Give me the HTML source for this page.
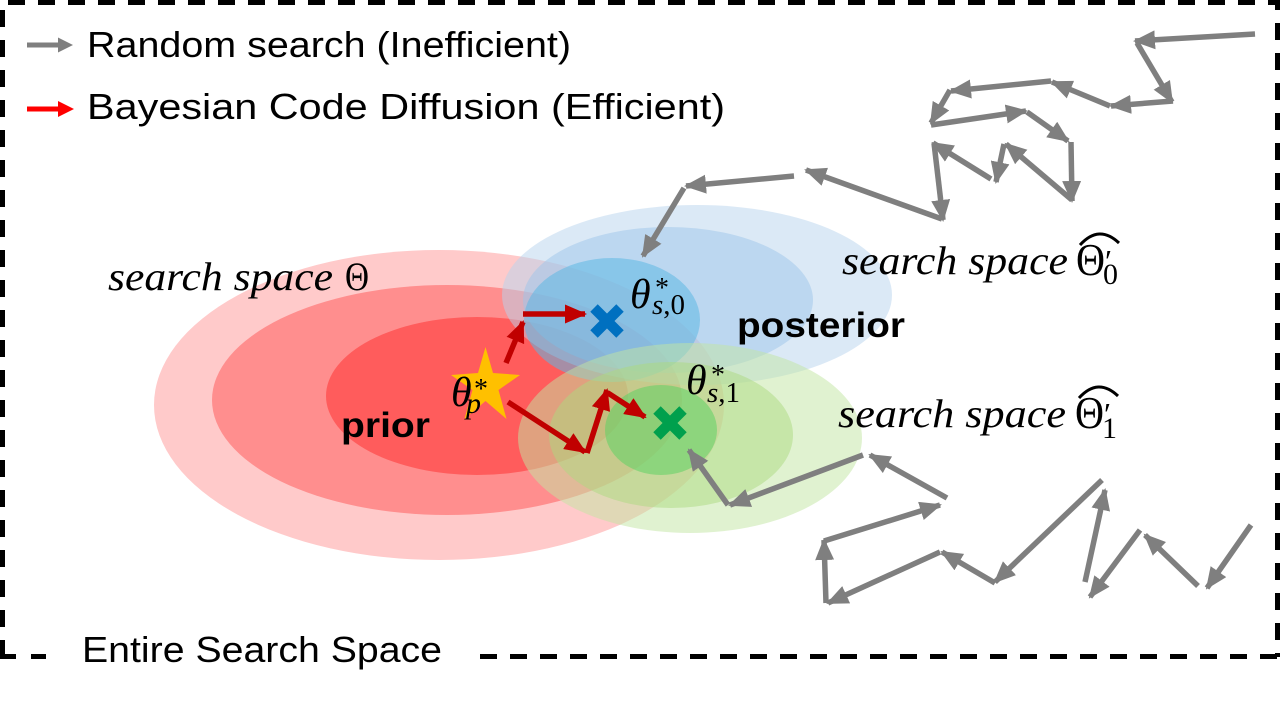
<!DOCTYPE html>
<html>
<head>
<meta charset="utf-8">
<style>
  html, body { margin: 0; padding: 0; background: #fff; }
  svg { display: block; }
  .sans { font-family: "Liberation Sans", Arial, sans-serif; }
  .serif { font-family: "Liberation Serif", "DejaVu Serif", serif; }
</style>
</head>
<body>
<svg width="1280" height="701" viewBox="0 0 1280 701" xmlns="http://www.w3.org/2000/svg">
  <defs>
    <marker id="mg" viewBox="0 0 22 19" refX="20" refY="9.5" markerWidth="22" markerHeight="19" markerUnits="userSpaceOnUse" orient="auto">
      <path d="M0,0 L22,9.5 L0,19 z" fill="#7f7f7f"/>
    </marker>
    <marker id="mr" viewBox="0 0 22 19" refX="20" refY="9.5" markerWidth="22" markerHeight="19" markerUnits="userSpaceOnUse" orient="auto">
      <path d="M0,0 L22,9.5 L0,19 z" fill="#c00000"/>
    </marker>
  </defs>

  <rect x="0" y="0" width="1280" height="701" fill="#ffffff"/>

  <!-- Border (dashed) -->
  <path d="M2.5,657 L2.5,2.5 L1277.5,2.5 L1277.5,657" fill="none" stroke="#000" stroke-width="5" stroke-dasharray="17 13"/>
  <line x1="0" y1="656.5" x2="46" y2="656.5" stroke="#000" stroke-width="5" stroke-dasharray="16 15"/>
  <line x1="480" y1="656.5" x2="1280" y2="656.5" stroke="#000" stroke-width="5" stroke-dasharray="17 13"/>

  <!-- Red (prior) ellipses -->
  <ellipse cx="439" cy="405" rx="285" ry="155" fill="#ffcaca"/>
  <ellipse cx="447" cy="400" rx="235" ry="115" fill="#ff8e8e"/>
  <ellipse cx="477" cy="396" rx="151" ry="79" fill="#ff5c5c"/>

  <!-- Blue (posterior) ellipses -->
  <ellipse cx="697" cy="295" rx="195" ry="90" fill="#b7d3ed" fill-opacity="0.5"/>
  <ellipse cx="668" cy="300" rx="145" ry="73" fill="#9dc5ea" fill-opacity="0.5"/>
  <ellipse cx="612" cy="320" rx="88" ry="62" fill="#5cb8e4" fill-opacity="0.55"/>

  <!-- Green ellipses -->
  <ellipse cx="690" cy="438" rx="172" ry="95" fill="#c1e5a1" fill-opacity="0.5"/>
  <ellipse cx="671" cy="435" rx="122" ry="73" fill="#acda80" fill-opacity="0.5"/>
  <ellipse cx="661" cy="430" rx="56" ry="45" fill="#5ed264" fill-opacity="0.55"/>

  <!-- Gray random search arrows: top chain -->
  <g stroke="#7f7f7f" stroke-width="5.5" marker-end="url(#mg)">
    <line x1="1255" y1="34" x2="1135" y2="41"/>
    <line x1="1137" y1="43" x2="1172" y2="102"/>
    <line x1="1173" y1="101" x2="1111" y2="106"/>
    <line x1="1110" y1="106" x2="1052" y2="82"/>
    <line x1="1051" y1="81" x2="951" y2="91"/>
    <line x1="950" y1="90" x2="931" y2="123"/>
    <line x1="931" y1="125" x2="1026" y2="111"/>
    <line x1="1027" y1="112" x2="1068" y2="141"/>
    <line x1="1071" y1="142" x2="1072" y2="201"/>
    <line x1="1072" y1="200" x2="1006" y2="144"/>
    <line x1="1004" y1="144" x2="996" y2="182"/>
    <line x1="991" y1="179" x2="933" y2="143"/>
    <line x1="934" y1="143" x2="943" y2="220"/>
    <line x1="942" y1="219" x2="806" y2="170"/>
    <line x1="794" y1="176" x2="686" y2="186"/>
    <line x1="684" y1="188" x2="643" y2="256"/>
  </g>

  <!-- Gray random search arrows: bottom chain -->
  <g stroke="#7f7f7f" stroke-width="5.5" marker-end="url(#mg)">
    <line x1="863" y1="455" x2="730" y2="505"/>
    <line x1="728" y1="505" x2="689" y2="450"/>
    <line x1="947" y1="498" x2="870" y2="455"/>
    <line x1="824" y1="541" x2="940" y2="505"/>
    <line x1="940" y1="552" x2="828" y2="603"/>
    <line x1="826" y1="603" x2="824" y2="540"/>
    <line x1="995" y1="583" x2="942" y2="552"/>
    <line x1="1102" y1="480" x2="995" y2="582"/>
    <line x1="1085" y1="582" x2="1105" y2="490"/>
    <line x1="1140" y1="530" x2="1090" y2="597"/>
    <line x1="1198" y1="586" x2="1145" y2="535"/>
    <line x1="1251" y1="525" x2="1207" y2="588"/>
  </g>

  <!-- Red Bayesian Code Diffusion arrows -->
  <g stroke="#c00000" stroke-width="5.5" marker-end="url(#mr)">
    <line x1="506" y1="363" x2="523" y2="322"/>
    <line x1="523" y1="314" x2="585" y2="314"/>
    <line x1="508" y1="402" x2="585" y2="452"/>
    <line x1="587" y1="453" x2="607" y2="390"/>
    <line x1="608" y1="393" x2="645" y2="417"/>
  </g>

  <!-- Blue X -->
  <g stroke="#0070c0" stroke-width="10.5">
    <line x1="594" y1="308" x2="620" y2="334"/>
    <line x1="620" y1="308" x2="594" y2="334"/>
  </g>
  <!-- Green X -->
  <g stroke="#00a04d" stroke-width="10.5">
    <line x1="657" y1="410" x2="683" y2="436"/>
    <line x1="683" y1="410" x2="657" y2="436"/>
  </g>

  <!-- Star -->
  <polygon points="485.5,347 493,373 520,375 498.5,390 506.5,419 485.5,401 464.5,419 472.5,390 451,375 478,373" fill="#ffc000"/>

  <!-- Legend -->
  <line x1="27" y1="45" x2="60" y2="45" stroke="#7f7f7f" stroke-width="5"/>
  <polygon points="58,37.5 73,45 58,52.5" fill="#7f7f7f"/>
  <line x1="27" y1="109" x2="60" y2="109" stroke="#ff0000" stroke-width="5"/>
  <polygon points="58,101 74,109 58,117" fill="#ff0000"/>
  <text class="sans" x="87" y="57" font-size="36" textLength="484" lengthAdjust="spacingAndGlyphs" fill="#000">Random search (Inefficient)</text>
  <text class="sans" x="87" y="119" font-size="36" textLength="638" lengthAdjust="spacingAndGlyphs" fill="#000">Bayesian Code Diffusion (Efficient)</text>

  <!-- Entire search space label -->
  <text class="sans" x="82" y="662" font-size="36" textLength="360" lengthAdjust="spacingAndGlyphs" fill="#000">Entire Search Space</text>

  <!-- prior / posterior -->
  <text class="sans" x="341" y="437" font-size="35" font-weight="bold" textLength="89" lengthAdjust="spacingAndGlyphs" fill="#000">prior</text>
  <text class="sans" x="737" y="337" font-size="35" font-weight="bold" textLength="168" lengthAdjust="spacingAndGlyphs" fill="#000">posterior</text>

  <!-- search space Θ -->
  <text class="serif" x="108" y="290" font-size="40" font-style="italic" textLength="225" lengthAdjust="spacingAndGlyphs" fill="#000">search space</text>
  <text class="serif" x="345" y="290" font-size="40" textLength="24" lengthAdjust="spacingAndGlyphs" fill="#000">Θ</text>

  <!-- search space Θ'0 hat -->
  <text class="serif" x="842" y="274" font-size="40" font-style="italic" textLength="226" lengthAdjust="spacingAndGlyphs" fill="#000">search space</text>
  <text class="serif" x="1076" y="275" font-size="46" textLength="29" lengthAdjust="spacingAndGlyphs" fill="#000">Θ</text>
  <text class="serif" x="1105" y="272" font-size="32" fill="#000">′</text>
  <text class="serif" x="1103" y="284" font-size="30" fill="#000">0</text>
  <path d="M1080,245 Q1099,224 1119,243" fill="none" stroke="#000" stroke-width="3"/>

  <!-- search space Θ'1 hat -->
  <text class="serif" x="838" y="427" font-size="40" font-style="italic" textLength="228" lengthAdjust="spacingAndGlyphs" fill="#000">search space</text>
  <text class="serif" x="1075" y="428" font-size="46" textLength="29" lengthAdjust="spacingAndGlyphs" fill="#000">Θ</text>
  <text class="serif" x="1104" y="425" font-size="32" fill="#000">′</text>
  <text class="serif" x="1102" y="438" font-size="30" fill="#000">1</text>
  <path d="M1079,398 Q1098,377 1118,396" fill="none" stroke="#000" stroke-width="3"/>

  <!-- θ*_p -->
  <text class="serif" x="451" y="406" font-size="42" font-style="italic" fill="#000">θ</text>
  <text class="serif" x="474" y="398" font-size="28" fill="#000">*</text>
  <text class="serif" x="466" y="413" font-size="30" font-style="italic" fill="#000">p</text>

  <!-- θ*_{s,0} -->
  <text class="serif" x="630" y="308" font-size="42" font-style="italic" fill="#000">θ</text>
  <text class="serif" x="655" y="297" font-size="28" fill="#000">*</text>
  <text class="serif" x="652" y="314" font-size="29" fill="#000"><tspan font-style="italic">s</tspan>,0</text>

  <!-- θ*_{s,1} -->
  <text class="serif" x="686" y="394" font-size="42" font-style="italic" fill="#000">θ</text>
  <text class="serif" x="711" y="384" font-size="28" fill="#000">*</text>
  <text class="serif" x="707" y="402" font-size="29" fill="#000"><tspan font-style="italic">s</tspan>,1</text>
</svg>
</body>
</html>
